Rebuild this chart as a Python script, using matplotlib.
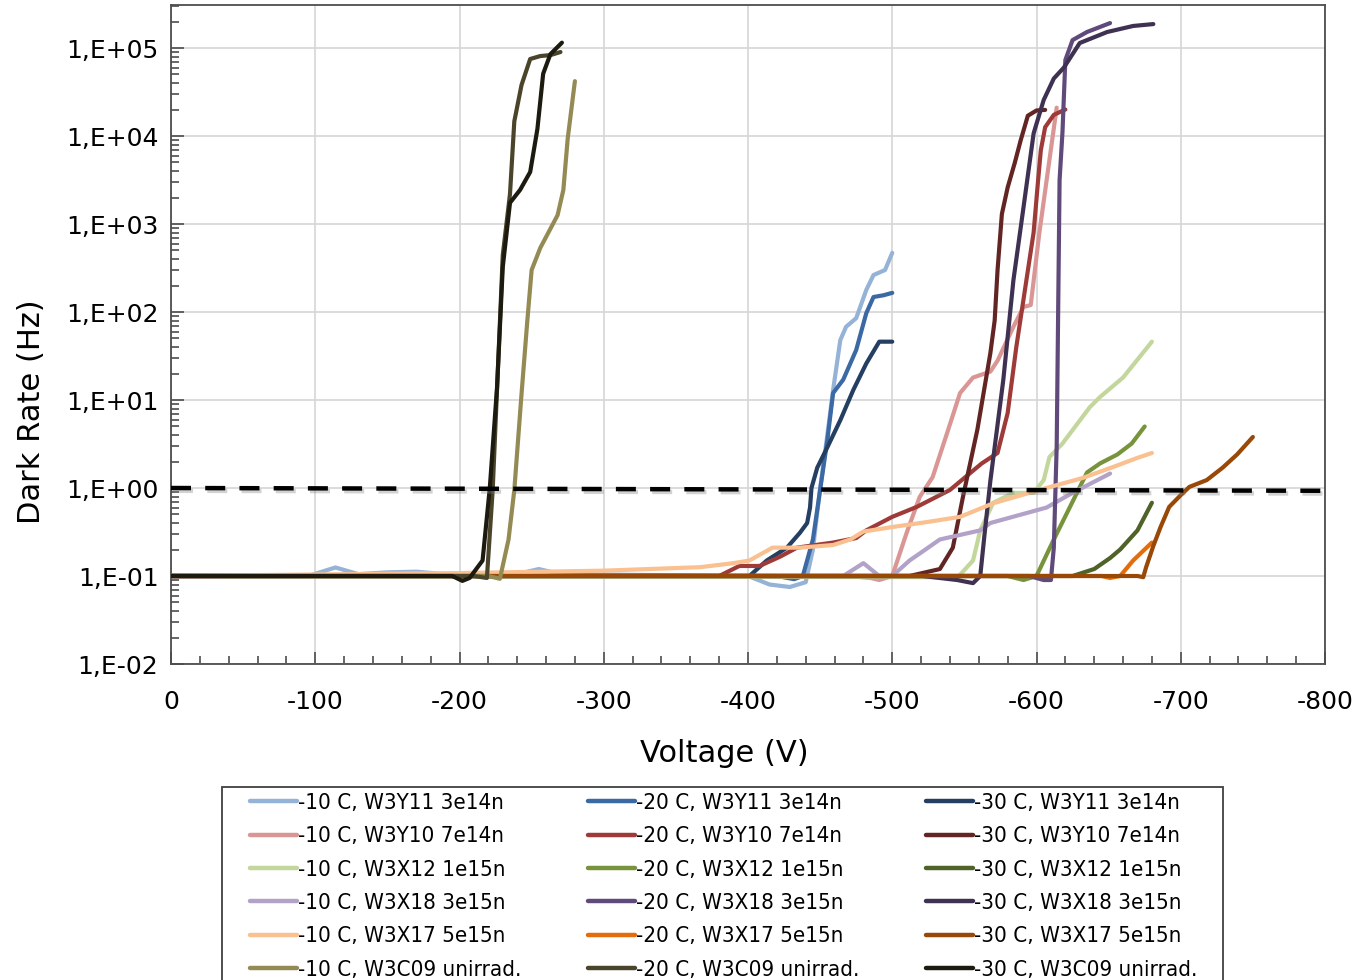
import numpy as np
import matplotlib
matplotlib.use("Agg")
import matplotlib.pyplot as plt
import matplotlib.patheffects as pe
from matplotlib.patches import Rectangle
from matplotlib.ticker import MultipleLocator, LogLocator, FuncFormatter, NullFormatter


# ---- data (voltage in V, dark rate in Hz) ----
y11_10_v = [0, -95, -114, -130, -150, -170, -190, -240, -255, -270, -400, -415, -429, -440, -445, -450, -455, -459, -464, -468, -475, -482, -487, -495, -500]
y11_10_r = [0.1, 0.1, 0.125, 0.105, 0.11, 0.112, 0.105, 0.105, 0.12, 0.105, 0.1, 0.08, 0.075, 0.085, 0.2, 1.0, 4.0, 13, 48, 68, 85, 178, 263, 300, 470]
y11_20_v = [0, -420, -432, -438, -445, -450, -455, -459, -466, -475, -482, -487, -494, -500]
y11_20_r = [0.1, 0.1, 0.092, 0.1, 0.26, 0.95, 3.5, 12, 17, 37, 97, 148, 155, 165]
y11_30_v = [0, -395, -401, -413, -427, -436, -441, -443, -444, -448, -455, -464, -473, -482, -491, -500]
y11_30_r = [0.1, 0.1, 0.1, 0.15, 0.21, 0.31, 0.4, 0.6, 1.0, 1.7, 2.9, 5.9, 13, 26, 46, 46]

y10_10_v = [0, -470, -485, -491, -500, -510, -519, -528, -538, -547, -556, -568, -573, -584, -591, -596, -602, -609, -614]
y10_10_r = [0.1, 0.1, 0.095, 0.09, 0.1, 0.31, 0.79, 1.33, 4.2, 12, 18, 21, 28, 68, 114, 120, 800, 5400, 21000]
y10_20_v = [0, -380, -394, -408, -422, -434, -459, -475, -482, -500, -517, -540, -562, -573, -580, -586, -593, -598, -601, -603, -606, -612, -620]
y10_20_r = [0.1, 0.1, 0.13, 0.13, 0.165, 0.21, 0.24, 0.27, 0.33, 0.47, 0.61, 0.95, 1.9, 2.5, 7.1, 40, 230, 800, 3000, 6900, 12600, 17400, 20000]
y10_30_v = [0, -512, -533, -542, -549, -559, -568, -571, -573, -576, -580, -585, -589, -594, -600, -606]
y10_30_r = [0.1, 0.1, 0.12, 0.21, 0.79, 4.6, 34, 80, 300, 1300, 2600, 5000, 8900, 17000, 19500, 19800]

x12_10_v = [0, -530, -545, -556, -561, -570, -584, -598, -605, -609, -618, -637, -644, -660, -680]
x12_10_r = [0.1, 0.097, 0.095, 0.15, 0.33, 0.68, 0.88, 0.88, 1.23, 2.25, 3.2, 8.3, 10.8, 18, 46]
x12_20_v = [0, -580, -591, -600, -612, -623, -635, -644, -656, -666, -675]
x12_20_r = [0.1, 0.1, 0.09, 0.1, 0.26, 0.6, 1.5, 1.9, 2.4, 3.2, 5.0]
x12_30_v = [0, -625, -640, -651, -658, -670, -680]
x12_30_r = [0.1, 0.1, 0.12, 0.16, 0.2, 0.33, 0.68]

x18_10_v = [0, -455, -466, -480, -491, -500, -512, -519, -533, -561, -568, -607, -625, -651]
x18_10_r = [0.1, 0.1, 0.1, 0.14, 0.1, 0.1, 0.15, 0.18, 0.26, 0.33, 0.4, 0.6, 0.88, 1.46]
x18_20_v = [0, -595, -605, -610, -612, -614, -615, -616, -618, -620, -625, -635, -651]
x18_20_r = [0.1, 0.1, 0.09, 0.09, 0.21, 3, 97, 3160, 11000, 73000, 123000, 152000, 192000]
x18_30_v = [0, -521, -545, -556, -561, -564, -568, -577, -584, -591, -598, -605, -612, -619, -630, -649, -667, -681]
x18_30_r = [0.1, 0.1, 0.09, 0.083, 0.1, 0.3, 1.2, 17, 230, 1550, 10700, 25700, 45000, 60000, 114000, 152000, 178000, 187000]

x17_10_v = [0, -100, -200, -300, -367, -390, -401, -417, -436, -459, -471, -480, -500, -524, -547, -570, -602, -632, -653, -670, -680]
x17_10_r = [0.1, 0.104, 0.108, 0.115, 0.126, 0.14, 0.15, 0.21, 0.21, 0.225, 0.26, 0.32, 0.36, 0.41, 0.47, 0.67, 0.95, 1.3, 1.73, 2.2, 2.5]
x17_20_v = [0, -645, -651, -658, -667, -680]
x17_20_r = [0.1, 0.1, 0.095, 0.1, 0.15, 0.24]
x17_30_v = [0, -670, -674, -676, -681, -686, -692, -700, -706, -718, -729, -739, -750]
x17_30_r = [0.1, 0.1, 0.097, 0.126, 0.22, 0.36, 0.61, 0.83, 1.03, 1.23, 1.7, 2.4, 3.8]

c09_10_v = [0, -220, -228, -234, -238, -243, -247, -250, -256, -268, -272, -275, -280]
c09_10_r = [0.1, 0.1, 0.093, 0.26, 0.95, 11.7, 79, 300, 535, 1260, 2440, 9300, 42000]
c09_20_v = [0, -210, -219, -223, -227, -230, -235, -238, -243, -249, -256, -263, -270]
c09_20_r = [0.1, 0.1, 0.095, 0.95, 31, 445, 2190, 14700, 38000, 75000, 81000, 83000, 90000]
c09_30_v = [0, -195, -202, -207, -216, -221, -226, -230, -235, -242, -249, -254, -258, -263, -271]
c09_30_r = [0.1, 0.1, 0.088, 0.095, 0.15, 1.0, 13.7, 325, 1740, 2440, 3900, 12000, 51000, 85000, 115000]

threshold_v = [0, -800]
threshold_r = [1.0, 0.93]

temps = ["-10 C", "-20 C", "-30 C"]
samples = ["W3Y11 3e14n", "W3Y10 7e14n", "W3X12 1e15n", "W3X18 3e15n", "W3X17 5e15n", "W3C09 unirrad."]

series = [
    [(y11_10_v, y11_10_r), (y11_20_v, y11_20_r), (y11_30_v, y11_30_r)],
    [(y10_10_v, y10_10_r), (y10_20_v, y10_20_r), (y10_30_v, y10_30_r)],
    [(x12_10_v, x12_10_r), (x12_20_v, x12_20_r), (x12_30_v, x12_30_r)],
    [(x18_10_v, x18_10_r), (x18_20_v, x18_20_r), (x18_30_v, x18_30_r)],
    [(x17_10_v, x17_10_r), (x17_20_v, x17_20_r), (x17_30_v, x17_30_r)],
    [(c09_10_v, c09_10_r), (c09_20_v, c09_20_r), (c09_30_v, c09_30_r)],
]

colors = [
    ["#95B3D7", "#3B69A3", "#243F62"],
    ["#D99694", "#9E3B38", "#632523"],
    ["#C3D69B", "#77933C", "#4F6228"],
    ["#B3A2C7", "#604A7B", "#3F3151"],
    ["#FAC090", "#E46C0A", "#984807"],
    ["#948A54", "#4A452A", "#1D1B10"],
]


fig = plt.figure(figsize=(13.6, 9.8), dpi=100)
ax = fig.add_axes([171 / 1360, 1 - 664 / 980, (1325 - 171) / 1360, (664 - 5) / 980])

handles = {}
for i, sample in enumerate(samples):
    for j, temp in enumerate(temps):
        v, r = series[i][j]
        line, = ax.plot(v, r, color=colors[i][j], lw=3.0, solid_joinstyle="round",
                        solid_capstyle="round", label=f"{temp}, {sample}", zorder=3)
        handles[(i, j)] = line

# 1 Hz reference line
ax.plot(threshold_v, threshold_r, color="black", lw=3.2, dashes=(4.5, 3.2), zorder=5,
        path_effects=[pe.SimpleLineShadow(offset=(1.5, -2), shadow_color="gray", alpha=0.35),
                      pe.Normal()])

ax.set_yscale("log")
ax.set_ylim(1e-2, 10 ** (5 + 43 / 88))
ax.set_xlim(0, -800)

ax.xaxis.set_major_locator(MultipleLocator(100))
ax.xaxis.set_minor_locator(MultipleLocator(20))
ax.xaxis.set_major_formatter(FuncFormatter(lambda x, p: f"{int(round(x))}"))
ax.yaxis.set_major_locator(LogLocator(base=10, numticks=20))
ax.yaxis.set_minor_locator(LogLocator(base=10, subs=np.arange(2, 10), numticks=20))
ax.yaxis.set_minor_formatter(NullFormatter())
ax.yaxis.set_major_formatter(FuncFormatter(lambda y, p: f"1,E{int(round(np.log10(y))):+03d}"))

ax.grid(True, which="major", color="#D9D9D9", lw=1.3, zorder=0)
ax.set_axisbelow(True)

for s in ax.spines.values():
    s.set_color("#4D4D4D")
    s.set_linewidth(1.3)

ax.tick_params(axis="both", which="both", direction="in", color="#4D4D4D", width=1.2)
ax.tick_params(axis="both", which="major", length=9, labelsize=18, labelcolor="black")
ax.tick_params(axis="both", which="minor", length=6)
ax.tick_params(axis="x", which="major", pad=19)
ax.tick_params(axis="y", which="major", pad=9)

ax.set_xlabel("Voltage (V)", fontsize=22)
ax.xaxis.set_label_coords((724 - 171) / 1154, (664 - 739) / 659)
ax.set_ylabel("Dark Rate (Hz)", fontsize=22)
ax.yaxis.set_label_coords((46 - 171) / 1154, (664 - 412) / 659)

# legend: column-wise order (-10 C, -20 C, -30 C)
order = [(i, j) for j in range(3) for i in range(6)]
leg = fig.legend([handles[k] for k in order], [handles[k].get_label() for k in order],
                 ncol=3, loc="upper left", mode="expand",
                 bbox_to_anchor=(250 / 1360, 1 - 793 / 980, (1197 - 250) / 1360, 0),
                 frameon=False, borderpad=0, borderaxespad=0,
                 prop={"family": ["DejaVu Sans"], "stretch": "condensed", "size": 16},
                 handlelength=2.1, handletextpad=0.05, labelspacing=0.6, columnspacing=1.0)
for lh in leg.get_lines():
    lh.set_linewidth(3.2)

fig.patches.append(Rectangle((222 / 1360, -0.05), (1223 - 222) / 1360, 0.05 + (980 - 787) / 980,
                             transform=fig.transFigure, fill=False, edgecolor="#404040", lw=1.3))

fig.savefig("out.png", dpi=100)
